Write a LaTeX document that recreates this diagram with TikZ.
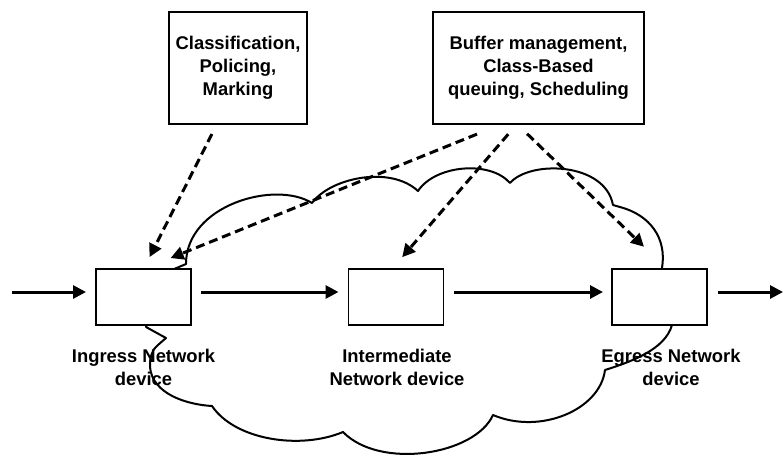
\documentclass[tikz,border=0pt]{standalone}
\usepackage{fontspec}
\setmainfont{Liberation Sans}
\usetikzlibrary{
    arrows.meta,
    positioning
}

\begin{document}
\begin{tikzpicture}[
    x=0.5pt, y=-0.5pt,
    every node/.style={font=\bfseries\fontsize{9.2}{11.6}\selectfont, align=center},
    devbox/.style={draw, line width=0.6pt, fill=white, minimum width=47.5pt,
      minimum height=28pt, inner sep=0pt, outer sep=0pt},
    infobox/.style={draw, line width=0.6pt, fill=white, minimum height=56pt,
      inner sep=0pt, outer sep=0pt},
    devlabel/.style={anchor=north, inner sep=0pt},
    flow/.style={line width=1.5pt, -{Triangle[length=6.5pt,width=6.5pt]}},
    ctrl/.style={line width=1.5pt, dash pattern=on 4.5pt off 2.5pt,
      -{Triangle[length=6.5pt,width=6.5pt]}},
    cloudline/.style={line width=1pt, line join=round}
  ]

  \useasboundingbox (0,0) rectangle (783,457);

  % cloud {{{
  \draw[cloudline] (167,272) -- (186,264)
    .. controls (186,205) and (275,180) .. (312,203)
    .. controls (330,178) and (390,165) .. (418,191)
    .. controls (435,165) and (490,160) .. (510,183)
    .. controls (530,160) and (605,162) .. (613,205)
    -- (620,207)
    .. controls (650,215) and (667,238) .. (662,268)
    -- (672,325)
    .. controls (665,350) and (630,362) .. (605,370)
    .. controls (600,410) and (540,435) .. (493,415)
    .. controls (475,455) and (380,470) .. (343,432)
    .. controls (300,450) and (235,440) .. (212,406)
    .. controls (180,404) and (148,390) .. (150,362)
    .. controls (152,350) .. (166,338)
    -- (146,327) -- cycle;
  % }}}

  % devices {{{
  \node[devbox] (ingress) at (143.5,297) {};
  \node[devbox] (inter) at (396,297) {};
  \node[devbox] (egress) at (659.5,297) {};

  \node[devlabel] (ingress label) at (143.5,349) {Ingress Network\\device};
  \node[devlabel] (inter label) at (397,349) {Intermediate\\Network device};
  \node[devlabel] (egress label) at (671,349) {Egress Network\\device};
  % }}}

  % functions {{{
  \node[infobox, minimum width=69pt] (classify) at (238,68)
    {Classification,\\Policing,\\Marking};
  \node[infobox, minimum width=105.5pt] (buffer) at (538.5,68)
    {Buffer management,\\Class-Based\\queuing, Scheduling};
  % }}}

  % traffic {{{
  \coordinate (in) at (12,292);
  \coordinate (out) at (783,292);
  \draw[flow, shorten >=5pt] (in) -- ([yshift=2.5pt]ingress.west);
  \draw[flow, shorten <=5pt, shorten >=5pt]
    ([yshift=2.5pt]ingress.east) -- ([yshift=2.5pt]inter.west);
  \draw[flow, shorten <=5pt, shorten >=4.5pt]
    ([yshift=2.5pt]inter.east) -- ([yshift=2.5pt]egress.west);
  \draw[flow, shorten <=5.5pt] ([yshift=2.5pt]egress.east) -- (out);
  % }}}

  % mapping {{{
  \draw[ctrl, shorten <=5.6pt, shorten >=6.7pt]
    ([xshift=-10.5pt]classify.south) -- (ingress.north);
  \draw[ctrl, shorten <=13.5pt, shorten >=14.6pt]
    ([xshift=-18.25pt]buffer.south) -- (ingress.north);
  \draw[ctrl, shorten <=6.7pt, shorten >=7.8pt]
    ([xshift=-10.75pt]buffer.south) -- ([xshift=-2pt]inter.north);
  \draw[ctrl, shorten <=7pt, shorten >=16pt]
    ([xshift=-10.75pt]buffer.south) -- ([xshift=3.75pt]egress.north);
  % }}}

\end{tikzpicture}
\end{document}
